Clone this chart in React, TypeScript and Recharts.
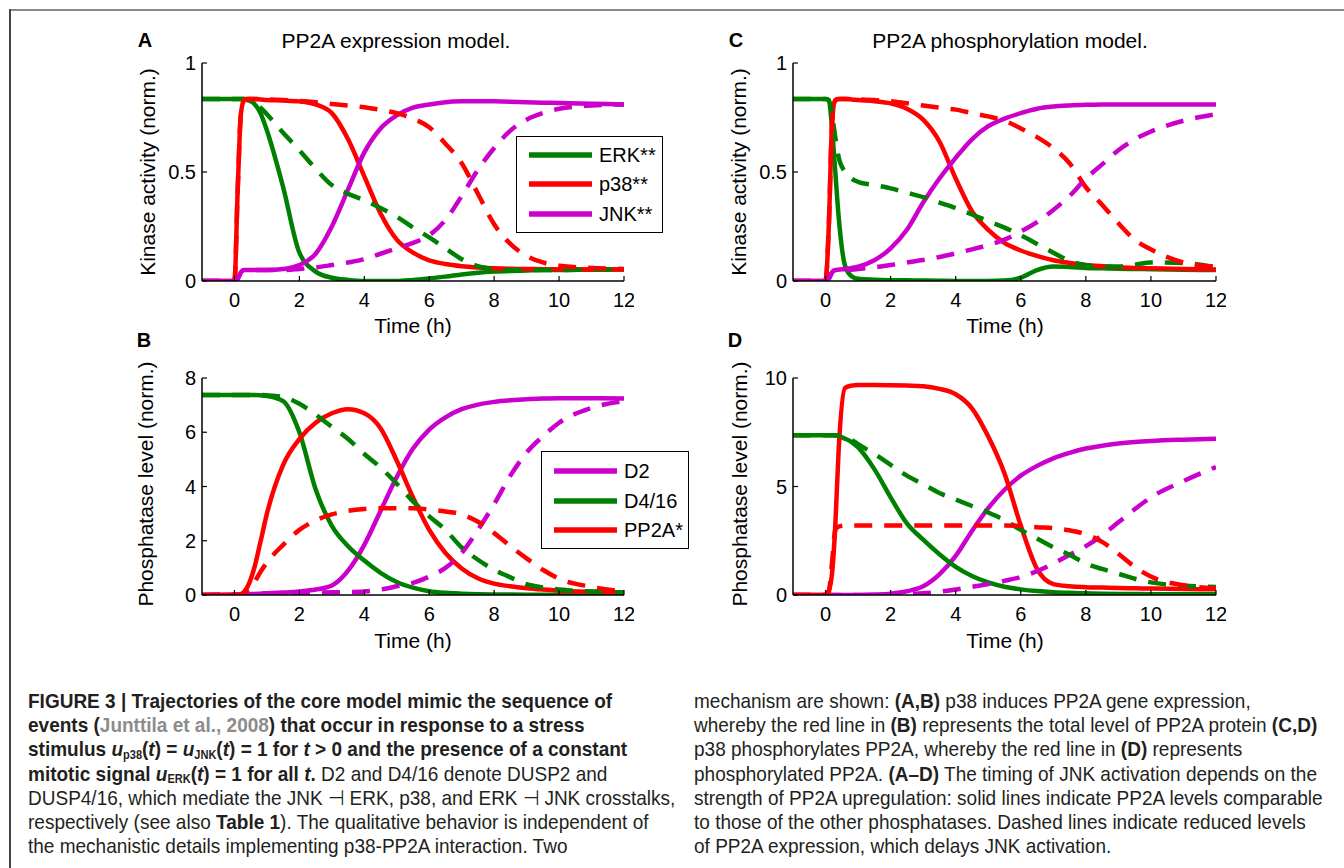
import React from 'react'
import { LineChart, Line, XAxis, YAxis } from 'recharts'

const GREEN = '#008000'
const RED = '#ff0000'
const MAGENTA = '#cc00cc'
const AXIS_FONT = "'Liberation Sans', Arial, Helvetica, sans-serif"

// simulation time grid (h), shared by every trace
const T = [-1, 0, 0.1, 0.2, 0.3, 0.4, 0.6, 0.8, 1, 1.5, 2, 2.5, 3, 3.5, 4, 4.5, 5, 5.5, 6, 6.5, 7, 7.5, 8, 8.5, 9, 9.5, 10, 11, 12]
const X_TICKS = [0, 2, 4, 6, 8, 10, 12]

// A: kinase activity, PP2A expression model
const erkA = [0.835, 0.835, 0.835, 0.835, 0.835, 0.83, 0.815, 0.77, 0.69, 0.43, 0.13, 0.043, 0.015, 0.005, 0, 0, 0, 0.005, 0.012, 0.02, 0.03, 0.038, 0.043, 0.046, 0.048, 0.05, 0.05, 0.052, 0.053]
const erkAd = [0.835, 0.835, 0.835, 0.835, 0.835, 0.833, 0.82, 0.795, 0.765, 0.68, 0.6, 0.515, 0.44, 0.4, 0.37, 0.335, 0.295, 0.245, 0.2, 0.15, 0.1, 0.068, 0.055, 0.05, 0.05, 0.05, 0.05, 0.052, 0.053]
const p38A = [0, 0, 0.42, 0.77, 0.83, 0.835, 0.835, 0.833, 0.83, 0.828, 0.824, 0.81, 0.77, 0.65, 0.48, 0.31, 0.19, 0.13, 0.095, 0.078, 0.068, 0.062, 0.058, 0.056, 0.055, 0.054, 0.054, 0.053, 0.053]
const p38Ad = [0, 0, 0.42, 0.77, 0.83, 0.835, 0.835, 0.834, 0.833, 0.83, 0.826, 0.82, 0.812, 0.805, 0.797, 0.785, 0.77, 0.745, 0.705, 0.63, 0.54, 0.4, 0.26, 0.17, 0.115, 0.085, 0.07, 0.06, 0.055]
const jnkA = [0, 0, 0.01, 0.04, 0.05, 0.05, 0.05, 0.05, 0.05, 0.055, 0.073, 0.125, 0.25, 0.42, 0.59, 0.7, 0.76, 0.795, 0.81, 0.82, 0.824, 0.825, 0.824, 0.822, 0.82, 0.818, 0.816, 0.813, 0.81]
const jnkAd = [0, 0, 0.01, 0.04, 0.05, 0.05, 0.05, 0.05, 0.05, 0.05, 0.055, 0.062, 0.073, 0.085, 0.1, 0.125, 0.15, 0.175, 0.21, 0.28, 0.39, 0.51, 0.61, 0.69, 0.74, 0.77, 0.79, 0.805, 0.81]

// B: phosphatase levels, PP2A expression model
const d2B = [0, 0.02, 0.02, 0.025, 0.03, 0.035, 0.04, 0.05, 0.06, 0.09, 0.13, 0.2, 0.35, 0.9, 1.85, 3.1, 4.35, 5.4, 6.1, 6.55, 6.85, 7.02, 7.12, 7.18, 7.22, 7.24, 7.25, 7.25, 7.24]
const d2Bd = [0, 0.02, 0.02, 0.025, 0.03, 0.035, 0.04, 0.05, 0.06, 0.07, 0.08, 0.09, 0.1, 0.11, 0.13, 0.2, 0.32, 0.45, 0.68, 1.0, 1.55, 2.4, 3.35, 4.4, 5.25, 5.85, 6.35, 6.9, 7.15]
const d4B = [7.37, 7.37, 7.37, 7.37, 7.37, 7.37, 7.37, 7.36, 7.34, 7.15, 6.0, 3.9, 2.55, 1.8, 1.27, 0.82, 0.48, 0.27, 0.14, 0.08, 0.05, 0.03, 0.02, 0.015, 0.012, 0.01, 0.01, 0.01, 0.01]
const d4Bd = [7.37, 7.37, 7.37, 7.37, 7.37, 7.37, 7.37, 7.37, 7.36, 7.3, 7.05, 6.65, 6.2, 5.75, 5.2, 4.7, 4.1, 3.45, 2.9, 2.4, 1.75, 1.3, 0.93, 0.65, 0.4, 0.28, 0.2, 0.13, 0.1]
const ppB = [0, 0, 0, 0.03, 0.12, 0.3, 0.95, 1.95, 3.0, 4.8, 5.75, 6.35, 6.7, 6.85, 6.7, 6.15, 4.95, 3.6, 2.4, 1.55, 0.98, 0.62, 0.42, 0.32, 0.25, 0.2, 0.16, 0.12, 0.1]
const ppBd = [0, 0, 0, 0.02, 0.08, 0.2, 0.45, 0.85, 1.2, 1.85, 2.4, 2.75, 2.97, 3.1, 3.17, 3.2, 3.2, 3.2, 3.15, 3.08, 2.97, 2.7, 2.28, 1.8, 1.35, 0.93, 0.6, 0.3, 0.13]

// C: kinase activity, PP2A phosphorylation model
const erkC = [0.835, 0.835, 0.83, 0.7, 0.5, 0.3, 0.07, 0.022, 0.01, 0.006, 0.004, 0.003, 0.002, 0.001, 0, 0, 0, 0.002, 0.015, 0.05, 0.066, 0.064, 0.06, 0.058, 0.056, 0.055, 0.054, 0.052, 0.05]
const erkCd = [0.835, 0.835, 0.83, 0.76, 0.66, 0.57, 0.5, 0.47, 0.455, 0.44, 0.425, 0.405, 0.385, 0.36, 0.335, 0.305, 0.275, 0.245, 0.21, 0.17, 0.13, 0.092, 0.072, 0.066, 0.066, 0.075, 0.085, 0.082, 0.062]
const p38C = [0, 0, 0.25, 0.72, 0.83, 0.835, 0.835, 0.833, 0.83, 0.825, 0.815, 0.79, 0.74, 0.64, 0.47, 0.32, 0.235, 0.175, 0.14, 0.115, 0.095, 0.083, 0.074, 0.068, 0.063, 0.06, 0.058, 0.055, 0.053]
const p38Cd = [0, 0, 0.25, 0.72, 0.83, 0.835, 0.835, 0.834, 0.833, 0.83, 0.825, 0.815, 0.805, 0.795, 0.786, 0.77, 0.755, 0.735, 0.7, 0.66, 0.61, 0.54, 0.43, 0.35, 0.265, 0.19, 0.145, 0.085, 0.065]
const jnkC = [0, 0, 0.01, 0.04, 0.05, 0.052, 0.055, 0.06, 0.066, 0.095, 0.15, 0.235, 0.36, 0.47, 0.565, 0.65, 0.71, 0.745, 0.77, 0.79, 0.8, 0.805, 0.808, 0.81, 0.81, 0.81, 0.81, 0.81, 0.81]
const jnkCd = [0, 0, 0.01, 0.04, 0.05, 0.05, 0.05, 0.052, 0.055, 0.063, 0.073, 0.085, 0.096, 0.11, 0.127, 0.145, 0.165, 0.19, 0.227, 0.27, 0.326, 0.39, 0.47, 0.535, 0.6, 0.65, 0.686, 0.735, 0.765]

// D: phosphatase levels, PP2A phosphorylation model
const d2D = [0, 0, 0, 0, 0, 0, 0, 0, 0, 0.02, 0.06, 0.17, 0.4, 0.95, 1.8, 2.95, 4.0, 4.85, 5.5, 5.95, 6.3, 6.55, 6.75, 6.88, 6.98, 7.05, 7.1, 7.16, 7.2]
const d2Dd = [0, 0, 0, 0, 0, 0, 0, 0, 0, 0, 0.01, 0.05, 0.08, 0.15, 0.25, 0.38, 0.5, 0.65, 0.83, 1.1, 1.45, 1.85, 2.25, 2.75, 3.35, 3.95, 4.5, 5.25, 5.9]
const d4D = [7.36, 7.36, 7.36, 7.36, 7.35, 7.32, 7.2, 7.05, 6.8, 5.8, 4.5, 3.3, 2.55, 1.88, 1.3, 0.88, 0.58, 0.38, 0.26, 0.18, 0.13, 0.1, 0.08, 0.06, 0.05, 0.045, 0.04, 0.035, 0.03]
const d4Dd = [7.36, 7.36, 7.36, 7.36, 7.36, 7.35, 7.3, 7.15, 6.95, 6.5, 6.0, 5.5, 5.1, 4.7, 4.4, 4.1, 3.8, 3.45, 3.0, 2.6, 2.2, 1.85, 1.45, 1.2, 0.98, 0.75, 0.58, 0.43, 0.37]
const ppD = [0, 0, 0.2, 1.0, 3.2, 6.6, 9.55, 9.65, 9.68, 9.68, 9.67, 9.65, 9.62, 9.5, 9.25, 8.6, 7.3, 5.6, 3.2, 1.2, 0.5, 0.4, 0.36, 0.34, 0.32, 0.31, 0.3, 0.28, 0.26]
const ppDd = [0, 0, 0.15, 1.5, 3.0, 3.15, 3.2, 3.2, 3.2, 3.2, 3.2, 3.2, 3.2, 3.2, 3.2, 3.2, 3.2, 3.2, 3.18, 3.12, 3.08, 2.98, 2.8, 2.45, 1.9, 1.3, 0.85, 0.45, 0.3]

type Series = { key: string; values: number[]; color: string; dashed?: boolean }

function toRows(series: Series[]) {
  return T.map((t, i) => {
    const row: Record<string, number> = { t }
    series.forEach((s) => { row[s.key] = s.values[i] })
    return row
  })
}

const kinaseA: Series[] = [
  { key: 'erk', values: erkA, color: GREEN },
  { key: 'p38', values: p38A, color: RED },
  { key: 'jnk', values: jnkA, color: MAGENTA },
  { key: 'erkD', values: erkAd, color: GREEN, dashed: true },
  { key: 'p38D', values: p38Ad, color: RED, dashed: true },
  { key: 'jnkD', values: jnkAd, color: MAGENTA, dashed: true },
]
const kinaseC: Series[] = [
  { key: 'erk', values: erkC, color: GREEN },
  { key: 'p38', values: p38C, color: RED },
  { key: 'jnk', values: jnkC, color: MAGENTA },
  { key: 'erkD', values: erkCd, color: GREEN, dashed: true },
  { key: 'p38D', values: p38Cd, color: RED, dashed: true },
  { key: 'jnkD', values: jnkCd, color: MAGENTA, dashed: true },
]
const phosB: Series[] = [
  { key: 'd2', values: d2B, color: MAGENTA },
  { key: 'd4', values: d4B, color: GREEN },
  { key: 'pp', values: ppB, color: RED },
  { key: 'd2D', values: d2Bd, color: MAGENTA, dashed: true },
  { key: 'd4D', values: d4Bd, color: GREEN, dashed: true },
  { key: 'ppD', values: ppBd, color: RED, dashed: true },
]
const phosD: Series[] = [
  { key: 'd2', values: d2D, color: MAGENTA },
  { key: 'd4', values: d4D, color: GREEN },
  { key: 'pp', values: ppD, color: RED },
  { key: 'd2D', values: d2Dd, color: MAGENTA, dashed: true },
  { key: 'd4D', values: d4Dd, color: GREEN, dashed: true },
  { key: 'ppD', values: ppDd, color: RED, dashed: true },
]

const TICK_LEN = 5
const X_MARGIN = 12
const Y_MARGIN = 6

// matlab-style ticks: short marks pointing into the axes box
function BottomTick({ x, y, payload }: any) {
  const ay = y - X_MARGIN
  return (
    <g>
      <line x1={x} x2={x} y1={ay} y2={ay - TICK_LEN} stroke="#000" strokeWidth={1.2} />
      <text x={x} y={y} dy="0.71em" textAnchor="middle" fontSize={20} fontFamily={AXIS_FONT} fill="#000">{payload.value}</text>
    </g>
  )
}
function LeftTick({ x, y, payload }: any) {
  const ax = x + Y_MARGIN
  return (
    <g>
      <line x1={ax} x2={ax + TICK_LEN} y1={y} y2={y} stroke="#000" strokeWidth={1.2} />
      <text x={x} y={y} dy="0.36em" textAnchor="end" fontSize={20} fontFamily={AXIS_FONT} fill="#000">{payload.value}</text>
    </g>
  )
}
function TopTick({ x, y }: any) {
  return <line x1={x} x2={x} y1={y} y2={y + TICK_LEN} stroke="#000" strokeWidth={1.2} />
}
function RightTick({ x, y }: any) {
  return <line x1={x} x2={x - TICK_LEN} y1={y} y2={y} stroke="#000" strokeWidth={1.2} />
}

const AXIS_LINE = { stroke: '#000', strokeWidth: 1.5 }

function Panel({ left, top, w, h, series, yMax, yTicks, boxed }: {
  left: number; top: number; w: number; h: number; series: Series[]; yMax: number; yTicks: number[]; boxed?: boolean
}) {
  const padL = 70
  const padT = 10
  const padR = 10
  const padB = 36
  const rows = toRows(series)
  return (
    <div style={{ position: 'absolute', left: left - padL, top: top - padT }}>
      <LineChart width={padL + w + padR} height={padT + h + padB} data={rows} margin={{ top: padT, right: padR, left: 0, bottom: 0 }}>
        <XAxis dataKey="t" type="number" domain={[-1, 12]} ticks={X_TICKS} interval={0} height={padB}
          tickSize={0} tickMargin={X_MARGIN} tickLine={false} axisLine={AXIS_LINE} tick={BottomTick} allowDataOverflow />
        <YAxis type="number" domain={[0, yMax]} ticks={yTicks} interval={0} width={padL}
          tickSize={0} tickMargin={Y_MARGIN} tickLine={false} axisLine={AXIS_LINE} tick={LeftTick} allowDataOverflow />
        {boxed && (
          <XAxis xAxisId="top" orientation="top" type="number" domain={[-1, 12]} ticks={X_TICKS} interval={0} height={0}
            tickSize={0} tickMargin={0} tickLine={false} axisLine={AXIS_LINE} tick={TopTick} allowDataOverflow />
        )}
        {boxed && (
          <YAxis yAxisId="right" orientation="right" type="number" domain={[0, yMax]} ticks={yTicks} interval={0} width={0}
            tickSize={0} tickMargin={0} tickLine={false} axisLine={AXIS_LINE} tick={RightTick} allowDataOverflow />
        )}
        {series.map((s) => (
          <Line key={s.key} dataKey={s.key} type="monotone" stroke={s.color} strokeWidth={4.5}
            strokeDasharray={s.dashed ? '18 12' : undefined} dot={false} activeDot={false} isAnimationActive={false} />
        ))}
      </LineChart>
    </div>
  )
}

function Txt({ x, y, size = 21, bold, rotate, children }: any) {
  return (
    <div style={{
      position: 'absolute', left: x, top: y, whiteSpace: 'nowrap', lineHeight: 1,
      fontFamily: AXIS_FONT, fontSize: size, fontWeight: bold ? 'bold' : 'normal', color: '#000',
      transform: `translate(-50%, -50%)${rotate ? ' rotate(-90deg)' : ''}`,
    }}>{children}</div>
  )
}

function LegendBox({ left, top, w, h, items }: { left: number; top: number; w: number; h: number; items: { label: string; color: string; y: number }[] }) {
  return (
    <div style={{ position: 'absolute', left, top, width: w, height: h, background: '#fff', border: '1.5px solid #000', boxSizing: 'border-box' }}>
      <svg width={w} height={h} style={{ position: 'absolute', left: -1.5, top: -1.5 }}>
        {items.map((it) => (
          <line key={it.label} x1={13} x2={76} y1={it.y} y2={it.y} stroke={it.color} strokeWidth={5.5} />
        ))}
      </svg>
      {items.map((it) => (
        <div key={it.label} style={{ position: 'absolute', left: 82, top: it.y - 1.5, transform: 'translateY(-50%)', fontFamily: AXIS_FONT, fontSize: 20, lineHeight: 1, whiteSpace: 'nowrap' }}>{it.label}</div>
      ))}
    </div>
  )
}

const sub = { fontSize: '0.58em', lineHeight: 0, position: 'relative' as const, top: '0.22em' }
const gray = { color: '#8c8c8c' }

// condensed caption face: regular sans squeezed horizontally
function CaptionLines({ left, lines }: { left: number; lines: React.ReactNode[] }) {
  return (
    <div style={{
      position: 'absolute', left, top: 689, fontFamily: AXIS_FONT, fontSize: 21, lineHeight: '24.2px', color: '#231f20',
      transform: 'scaleX(0.905)', transformOrigin: '0 0',
    }}>
      {lines.map((l, i) => <div key={i} style={{ whiteSpace: 'nowrap', height: 24.2, overflow: 'visible' }}>{l}</div>)}
    </div>
  )
}

export default function App() {
  const leftCaption = [
    <b>FIGURE 3 | Trajectories of the core model mimic the sequence of</b>,
    <b>events (<span style={gray}>Junttila et al., 2008</span>) that occur in response to a stress</b>,
    <b>stimulus <i>u</i><span style={sub}>p38</span>(<i>t</i>) = <i>u</i><span style={sub}>JNK</span>(<i>t</i>) = 1 for <i>t</i> &gt; 0 and the presence of a constant</b>,
    <><b>mitotic signal <i>u</i><span style={sub}>ERK</span>(<i>t</i>) = 1 for all <i>t</i>.</b> D2 and D4/16 denote DUSP2 and</>,
    <>DUSP4/16, which mediate the JNK ⊣ ERK, p38, and ERK ⊣ JNK crosstalks,</>,
    <>respectively (see also <b>Table 1</b>). The qualitative behavior is independent of</>,
    <>the mechanistic details implementing p38-PP2A interaction. Two</>,
  ]
  const rightCaption = [
    <>mechanism are shown: <b>(A,B)</b> p38 induces PP2A gene expression,</>,
    <>whereby the red line in <b>(B)</b> represents the total level of PP2A protein <b>(C,D)</b></>,
    <>p38 phosphorylates PP2A, whereby the red line in <b>(D)</b> represents</>,
    <>phosphorylated PP2A. <b>(A–D)</b> The timing of JNK activation depends on the</>,
    <>strength of PP2A upregulation: solid lines indicate PP2A levels comparable</>,
    <>to those of the other phosphatases. Dashed lines indicate reduced levels</>,
    <>of PP2A expression, which delays JNK activation.</>,
  ]

  return (
    <div style={{ position: 'absolute', left: 0, top: 0, width: 1344, height: 868, background: '#fff', overflow: 'hidden' }}>
      <div style={{ position: 'absolute', left: 9, top: 9, width: 1335, height: 2, background: '#8a8a8a' }} />
      <div style={{ position: 'absolute', left: 9, top: 9, width: 1.5, height: 859, background: '#444' }} />

      <Panel left={202} top={63} w={422} h={218} series={kinaseA} yMax={1} yTicks={[0, 0.5, 1]} />
      <Panel left={202} top={378} w={422} h={217} series={phosB} yMax={8} yTicks={[0, 2, 4, 6, 8]} />
      <Panel left={793} top={63} w={423} h={218} series={kinaseC} yMax={1} yTicks={[0, 0.5, 1]} boxed />
      <Panel left={793} top={378} w={423} h={217} series={phosD} yMax={10} yTicks={[0, 5, 10]} boxed />

      <Txt x={145} y={40} size={20} bold>A</Txt>
      <Txt x={144} y={340} size={20} bold>B</Txt>
      <Txt x={736} y={40} size={20} bold>C</Txt>
      <Txt x={735} y={340} size={20} bold>D</Txt>

      <Txt x={396} y={40}>PP2A expression model.</Txt>
      <Txt x={1010} y={40}>PP2A phosphorylation model.</Txt>

      <Txt x={413} y={325}>Time (h)</Txt>
      <Txt x={413} y={640}>Time (h)</Txt>
      <Txt x={1005} y={325}>Time (h)</Txt>
      <Txt x={1005} y={640}>Time (h)</Txt>

      <Txt x={147} y={172} rotate>Kinase activity (norm.)</Txt>
      <Txt x={145} y={484} rotate>Phosphatase level (norm.)</Txt>
      <Txt x={738} y={172} rotate>Kinase activity (norm.)</Txt>
      <Txt x={739} y={484} rotate>Phosphatase level (norm.)</Txt>

      <LegendBox left={516} top={136} w={147} h={97} items={[
        { label: 'ERK**', color: GREEN, y: 19 },
        { label: 'p38**', color: RED, y: 48 },
        { label: 'JNK**', color: MAGENTA, y: 78 },
      ]} />
      <LegendBox left={541} top={451} w={148} h={98} items={[
        { label: 'D2', color: MAGENTA, y: 20 },
        { label: 'D4/16', color: GREEN, y: 50 },
        { label: 'PP2A*', color: RED, y: 79 },
      ]} />

      <CaptionLines left={28} lines={leftCaption} />
      <CaptionLines left={694} lines={rightCaption} />
    </div>
  )
}
